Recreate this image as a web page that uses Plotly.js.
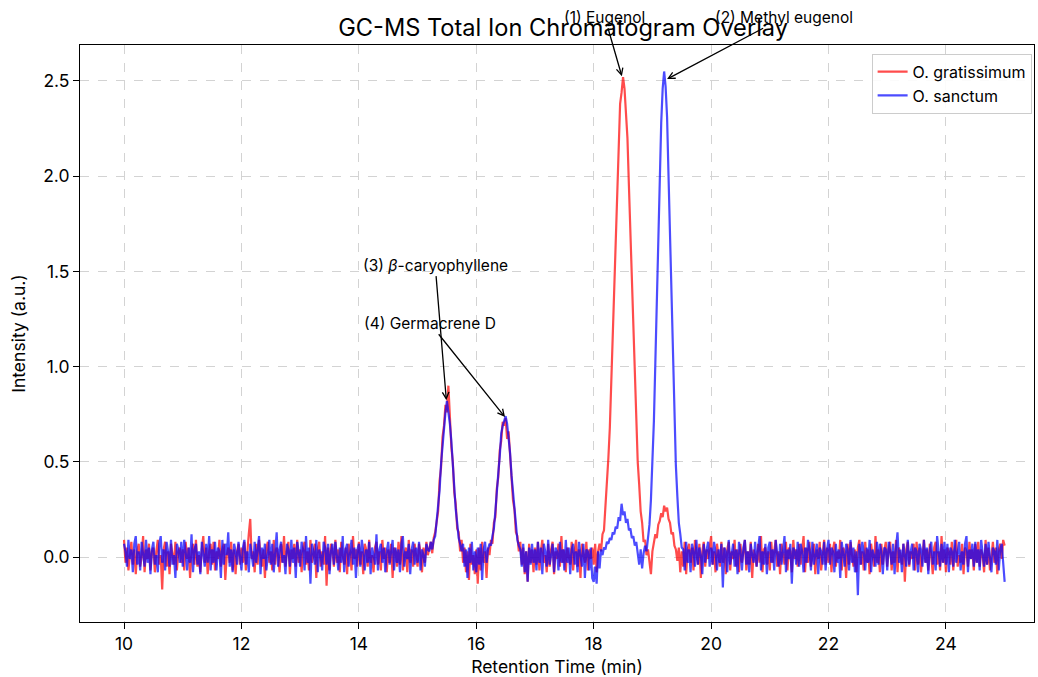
<!DOCTYPE html>
<html>
<head>
<meta charset="utf-8">
<script src="https://cdn.plot.ly/plotly-3.0.1.min.js"></script>
<style>html,body{margin:0;padding:0;background:#fff}#chart{width:1038px;height:677px}</style>
</head>
<body>
<div id="chart"></div>
<script>
// Sampling of the retention-time axis (minutes)
const timeStart = 10.0;
const timeStep = 0.025;

// O. gratissimum intensities (a.u.), one row per half minute, 10.00 .. 25.00 min
const gratissimum = [
  0.09, -0.03, 0.05, -0.07, 0.01, 0.08, -0.04, 0.04, -0.09, 0.03, 0.07, -0.05, 0.00, 0.11, -0.08, 0.04, -0.01, 0.07, -0.07, 0.03,
  0.05, -0.08, 0.03, 0.09, -0.04, 0.01, -0.17, 0.04, 0.08, -0.05, 0.03, -0.09, 0.07, 0.01, -0.04, 0.08, -0.07, 0.03, 0.05, -0.03,
  0.04, -0.07, 0.08, -0.01, 0.05, -0.11, 0.03, 0.07, -0.04, 0.09, -0.05, 0.01, -0.08, 0.04, 0.11, -0.03, 0.05, -0.09, 0.03, 0.07,
  -0.04, 0.08, -0.07, 0.03, -0.01, 0.09, -0.05, 0.04, 0.07, -0.12, 0.01, 0.05, -0.03, 0.08, -0.07, 0.04, -0.09, 0.03, 0.07, -0.04,
  0.05, -0.03, 0.08, -0.07, 0.04, 0.12, 0.20, -0.01, 0.03, -0.08, 0.07, -0.04, 0.09, 0.01, -0.05, 0.04, -0.11, 0.05, 0.08, -0.03,
  0.03, -0.07, 0.09, -0.04, 0.05, 0.01, -0.08, 0.07, -0.03, 0.11, -0.05, 0.03, 0.08, -0.09, 0.04, -0.01, 0.07, -0.05, 0.09, -0.03,
  0.04, -0.08, 0.05, 0.08, -0.04, 0.03, -0.07, 0.09, -0.03, 0.01, 0.07, -0.11, 0.04, 0.08, -0.05, 0.03, -0.04, 0.11, -0.15, 0.05,
  -0.07, 0.07, 0.03, -0.05, 0.09, -0.03, 0.04, -0.08, 0.08, 0.01, -0.04, 0.05, -0.09, 0.07, 0.03, -0.07, 0.11, -0.01, 0.04, -0.05,
  0.08, -0.04, 0.03, -0.09, 0.07, 0.04, -0.05, 0.09, -0.03, 0.01, -0.08, 0.05, 0.08, -0.04, 0.03, -0.07, 0.09, -0.01, 0.05, -0.08,
  0.04, -0.03, 0.07, -0.11, 0.05, 0.03, -0.05, 0.08, -0.04, 0.11, -0.07, 0.01, 0.05, -0.08, 0.09, -0.03, 0.04, -0.05, 0.07, 0.01,
  -0.05, 0.07, 0.03, -0.08, 0.05, -0.03, 0.08, 0.01, 0.05, 0.08, 0.02, 0.10, 0.13, 0.20, 0.24, 0.40, 0.47, 0.63, 0.69, 0.80,
  0.76, 0.90, 0.72, 0.58, 0.50, 0.34, 0.28, 0.15, 0.13, 0.03, 0.09, -0.03, 0.05, -0.08, 0.03, -0.12, 0.07, -0.04, 0.01, -0.09,
  0.04, -0.14, 0.05, -0.07, 0.08, -0.03, 0.03, -0.11, 0.05, 0.01, 0.09, 0.07, 0.18, 0.21, 0.36, 0.42, 0.56, 0.61, 0.71, 0.69,
  0.73, 0.62, 0.66, 0.52, 0.45, 0.30, 0.25, 0.13, 0.11, 0.03, 0.08, -0.04, 0.05, -0.09, 0.03, -0.13, 0.07, -0.03, 0.04, -0.08,
  0.05, -0.04, 0.08, -0.07, 0.03, 0.09, -0.03, 0.01, -0.08, 0.07, -0.05, 0.04, 0.08, -0.09, 0.03, -0.01, 0.07, -0.05, 0.11, -0.03,
  0.04, -0.08, 0.05, 0.01, -0.04, 0.08, -0.07, 0.03, 0.09, -0.05, 0.04, -0.11, 0.07, 0.01, -0.03, 0.08, -0.07, 0.04, -0.01, 0.05,
  -0.04, 0.07, -0.08, 0.03, 0.07, 0.03, 0.12, 0.14, 0.27, 0.35, 0.52, 0.68, 0.92, 1.14, 1.43, 1.68, 1.96, 2.17, 2.38, 2.44,
  2.52, 2.46, 2.30, 2.20, 1.95, 1.71, 1.40, 1.16, 0.90, 0.70, 0.50, 0.38, 0.24, 0.18, 0.08, 0.09, 0.01, 0.04, -0.04, -0.09,
  0.03, 0.08, 0.12, 0.10, 0.17, 0.19, 0.23, 0.21, 0.27, 0.24, 0.26, 0.20, 0.18, 0.12, 0.13, 0.06, 0.04, -0.02, 0.05, -0.08,
  0.03, -0.05, 0.08, -0.09, 0.04, 0.07, -0.03, 0.05, -0.07, 0.09, 0.01, -0.04, 0.07, -0.11, 0.03, 0.08, -0.05, 0.04, -0.01, 0.07,
  0.11, -0.04, 0.03, -0.08, 0.07, 0.01, -0.05, 0.08, -0.03, 0.05, -0.09, 0.04, 0.08, -0.07, 0.03, -0.01, 0.09, -0.05, 0.04, -0.08,
  0.07, -0.03, 0.05, 0.09, -0.07, 0.03, -0.04, 0.08, -0.11, 0.04, 0.01, -0.05, 0.07, -0.03, 0.11, -0.08, 0.04, 0.05, -0.04, 0.03,
  -0.07, 0.08, -0.03, 0.04, 0.09, -0.05, 0.03, -0.09, 0.07, 0.01, -0.04, 0.08, -0.07, 0.05, 0.03, -0.08, 0.09, -0.01, 0.04, -0.05,
  0.07, -0.04, 0.03, 0.11, -0.08, 0.05, -0.03, 0.08, -0.05, 0.01, 0.07, -0.09, 0.04, -0.01, 0.08, -0.07, 0.03, 0.09, -0.04, 0.05,
  -0.03, 0.07, -0.08, 0.04, 0.08, -0.05, 0.03, -0.01, 0.09, -0.07, 0.05, 0.03, -0.11, 0.07, -0.04, 0.08, 0.01, -0.05, 0.04, -0.08,
  0.05, 0.09, -0.04, 0.03, -0.07, 0.08, -0.03, 0.04, -0.09, 0.07, 0.01, -0.05, 0.11, -0.03, 0.04, -0.08, 0.07, -0.04, 0.03, 0.08,
  -0.05, 0.04, 0.08, -0.07, 0.03, -0.03, 0.09, -0.08, 0.05, 0.01, -0.04, 0.07, -0.13, 0.04, 0.08, -0.05, 0.03, -0.01, 0.07, -0.07,
  0.08, -0.04, 0.05, -0.08, 0.03, 0.09, -0.03, 0.04, -0.07, 0.07, 0.01, -0.09, 0.05, 0.08, -0.04, 0.03, -0.07, 0.11, -0.03, 0.04,
  -0.08, 0.05, 0.03, -0.04, 0.08, -0.07, 0.04, 0.09, -0.05, 0.01, -0.03, 0.07, -0.09, 0.05, 0.03, -0.05, 0.08, -0.01, 0.04, -0.07,
  0.07, -0.03, 0.08, -0.05, 0.04, 0.01, -0.08, 0.09, -0.04, 0.05, -0.07, 0.03, 0.08, -0.03, 0.05, -0.09, 0.04, 0.07, -0.01, 0.09,
  0.06
];

// O. sanctum intensities (a.u.), same sampling
const sanctum = [
  0.07, 0.03, -0.05, 0.09, -0.01, 0.04, -0.08, 0.07, 0.11, -0.04, 0.03, -0.07, 0.08, 0.01, -0.05, 0.09, -0.03, 0.05, -0.09, 0.04,
  0.08, -0.04, 0.01, -0.08, 0.07, 0.11, -0.03, 0.04, -0.07, 0.08, 0.03, -0.05, 0.09, -0.04, 0.01, -0.11, 0.07, 0.04, -0.03, 0.08,
  -0.05, 0.09, 0.03, -0.07, 0.05, -0.03, 0.12, -0.08, 0.04, 0.07, -0.04, 0.03, -0.09, 0.08, 0.01, -0.05, 0.07, -0.03, 0.11, -0.07,
  0.04, -0.03, 0.08, -0.07, 0.05, 0.03, -0.11, 0.09, -0.04, 0.07, 0.01, 0.13, -0.05, 0.04, -0.08, 0.07, 0.03, -0.04, 0.08, -0.01,
  -0.07, 0.05, 0.09, -0.04, 0.03, -0.08, 0.07, 0.01, -0.05, 0.08, -0.03, 0.04, 0.11, -0.09, 0.05, -0.01, 0.07, -0.07, 0.03, 0.09,
  -0.04, 0.07, -0.08, 0.03, 0.13, -0.05, 0.04, 0.08, -0.03, 0.01, -0.09, 0.07, 0.04, -0.05, 0.09, -0.03, 0.05, -0.11, 0.08, 0.03,
  -0.05, 0.08, 0.04, -0.07, 0.11, -0.03, 0.05, -0.14, 0.07, 0.03, -0.04, 0.09, -0.08, 0.04, 0.01, -0.07, 0.08, 0.05, -0.04, 0.07,
  -0.09, 0.03, 0.07, -0.04, 0.08, 0.01, -0.07, 0.05, -0.03, 0.11, -0.08, 0.04, 0.07, -0.05, 0.03, 0.09, -0.04, 0.05, -0.11, 0.04,
  0.07, -0.05, 0.09, 0.03, -0.07, 0.04, -0.03, 0.08, -0.09, 0.05, 0.01, -0.04, 0.12, -0.07, 0.04, 0.07, -0.03, 0.05, -0.08, 0.03,
  0.08, -0.04, 0.03, 0.09, -0.07, 0.05, -0.03, 0.04, -0.08, 0.07, 0.11, -0.05, 0.03, -0.01, 0.07, -0.09, 0.04, 0.08, -0.04, 0.05,
  -0.03, 0.08, -0.07, 0.04, 0.01, -0.05, 0.07, 0.04, 0.03, 0.08, 0.04, 0.09, 0.11, 0.18, 0.27, 0.35, 0.49, 0.59, 0.71, 0.76,
  0.82, 0.77, 0.70, 0.61, 0.47, 0.37, 0.25, 0.18, 0.10, 0.07, 0.03, 0.07, -0.05, 0.04, -0.11, 0.05, -0.03, 0.08, -0.07, 0.03,
  -0.08, 0.05, -0.04, 0.07, -0.12, 0.04, 0.08, -0.03, 0.04, 0.07, 0.06, 0.11, 0.15, 0.24, 0.32, 0.44, 0.53, 0.65, 0.69, 0.72,
  0.74, 0.70, 0.63, 0.55, 0.43, 0.34, 0.23, 0.16, 0.09, 0.06, 0.04, -0.05, 0.07, -0.08, 0.03, -0.13, 0.05, -0.04, 0.07, -0.03,
  0.04, -0.07, 0.08, -0.03, 0.05, -0.09, 0.07, 0.03, -0.05, 0.09, -0.04, 0.01, 0.07, -0.08, 0.05, 0.03, -0.07, 0.08, -0.03, 0.04,
  -0.07, 0.09, -0.03, 0.05, -0.09, 0.04, 0.07, -0.04, 0.03, -0.08, 0.08, 0.01, -0.05, 0.07, -0.11, 0.04, 0.03, -0.07, 0.05, -0.11,
  -0.13, -0.05, -0.14, 0.03, -0.06, 0.04, 0.01, 0.05, 0.04, 0.08, 0.07, 0.10, 0.09, 0.13, 0.12, 0.16, 0.15, 0.21, 0.19, 0.28,
  0.22, 0.24, 0.18, 0.20, 0.14, 0.15, 0.10, 0.11, 0.06, 0.08, 0.02, -0.04, 0.04, -0.06, 0.02, 0.06, 0.03, 0.10, 0.17, 0.30,
  0.49, 0.71, 1.02, 1.33, 1.70, 2.02, 2.28, 2.46, 2.55, 2.47, 2.31, 2.00, 1.70, 1.33, 1.01, 0.73, 0.48, 0.32, 0.18, 0.12,
  0.05, 0.04, -0.07, 0.08, -0.03, 0.04, -0.08, 0.07, 0.03, -0.05, 0.09, -0.04, 0.05, 0.01, -0.09, 0.07, -0.03, 0.04, 0.08, -0.05,
  0.05, -0.04, 0.08, 0.03, -0.07, 0.04, -0.03, 0.07, -0.16, 0.05, 0.03, -0.08, 0.09, -0.04, 0.01, 0.07, -0.05, 0.04, -0.09, 0.08,
  0.03, -0.07, 0.05, 0.09, -0.04, 0.03, -0.08, 0.07, 0.01, -0.03, 0.08, -0.05, 0.04, 0.11, -0.07, 0.03, -0.04, 0.07, -0.09, 0.05,
  0.08, -0.03, 0.04, -0.07, 0.09, 0.01, -0.05, 0.07, -0.04, 0.03, 0.11, -0.08, 0.04, -0.01, 0.07, -0.14, 0.05, 0.03, -0.04, 0.08,
  -0.05, 0.07, 0.03, -0.08, 0.05, -0.03, 0.09, 0.04, -0.07, 0.08, -0.04, 0.01, 0.07, -0.09, 0.05, 0.03, -0.04, 0.08, -0.07, 0.04,
  0.09, -0.04, 0.05, 0.03, -0.08, 0.07, -0.03, 0.04, -0.11, 0.08, 0.01, -0.05, 0.07, 0.04, -0.07, 0.09, -0.03, 0.05, -0.08, 0.03,
  -0.20, 0.07, -0.04, 0.08, 0.03, -0.07, 0.05, -0.03, 0.09, -0.08, 0.04, 0.01, -0.05, 0.08, -0.04, 0.07, 0.03, -0.09, 0.05, 0.04,
  -0.07, 0.08, 0.03, -0.04, 0.07, -0.09, 0.05, 0.13, -0.03, 0.04, -0.08, 0.07, 0.01, -0.05, 0.09, -0.04, 0.03, 0.07, -0.07, 0.05,
  0.03, -0.08, 0.07, 0.04, -0.05, 0.09, -0.03, 0.05, -0.09, 0.04, 0.08, -0.04, 0.03, -0.07, 0.11, 0.01, -0.05, 0.07, -0.03, 0.08,
  -0.04, 0.07, -0.08, 0.05, 0.03, -0.05, 0.09, -0.03, 0.04, 0.08, -0.07, 0.03, -0.04, 0.07, 0.11, -0.08, 0.04, -0.01, 0.07, -0.05,
  0.08, -0.03, 0.04, -0.07, 0.09, 0.03, -0.05, 0.07, -0.04, 0.08, 0.01, -0.08, 0.05, 0.03, -0.04, 0.09, -0.07, 0.04, 0.07, -0.03,
  -0.13
];

// Peak labels: text, arrow-head point (time, intensity), label centre (time, intensity)
const peakLabels = ["(1) Eugenol", "(2) Methyl eugenol", "(3) <i>β</i>-caryophyllene", "(4) Germacrene D"];
const peakTimes = [18.48, 19.25, 15.49, 16.49];
const peakHeights = [2.525, 2.51, 0.824, 0.735];
const labelTimes = [18.19, 21.24, 15.30, 15.21];
const labelHeights = [2.835, 2.835, 1.533, 1.228];

const seriesNames = ["O. gratissimum", "O. sanctum"];
const xTicks = [10, 12, 14, 16, 18, 20, 22, 24];
const yTicks = [0.0, 0.5, 1.0, 1.5, 2.0, 2.5];

const timesFor = arr => arr.map((_, i) => +(timeStart + i * timeStep).toFixed(3));

const font = "Inter, 'Open Sans', sans-serif";

const traces = [
  {x: timesFor(gratissimum), y: gratissimum, name: seriesNames[0], type: "scatter", mode: "lines",
   line: {color: "rgba(255,0,0,0.7)", width: 2.2}},
  {x: timesFor(sanctum), y: sanctum, name: seriesNames[1], type: "scatter", mode: "lines",
   line: {color: "rgba(0,0,255,0.7)", width: 2.2}}
];

const annotations = peakLabels.map((t, i) => ({
  text: t, x: peakTimes[i], y: peakHeights[i], xref: "x", yref: "y",
  ax: labelTimes[i], ay: labelHeights[i], axref: "x", ayref: "y",
  showarrow: true, arrowhead: 5, arrowsize: 1, arrowwidth: 1.3, arrowcolor: "#000",
  font: {family: font, size: 15.5, color: "#000"}
}));

const layout = {
  width: 1038, height: 677,
  margin: {l: 80, r: 4, t: 45, b: 55},
  paper_bgcolor: "#fff", plot_bgcolor: "#fff",
  font: {family: font, color: "#000"},
  title: {text: "GC-MS Total Ion Chromatogram Overlay", x: 0.5425, xanchor: "center",
          y: 0.9586, yanchor: "middle", font: {family: font, size: 23.6, color: "#000"}},
  xaxis: {
    range: [9.25, 25.5], tickvals: xTicks, ticktext: xTicks.map(String),
    ticks: "outside", ticklen: 6, tickwidth: 1, tickcolor: "#000",
    showline: true, linecolor: "#000", linewidth: 1, mirror: true,
    showgrid: true, gridcolor: "#d3d3d3", griddash: "dash", gridwidth: 1,
    zeroline: false, tickfont: {family: font, size: 17.5},
    title: {text: "Retention Time (min)", font: {family: font, size: 17.5}, standoff: 8}
  },
  yaxis: {
    range: [-0.341, 2.689], tickvals: yTicks, ticktext: yTicks.map(v => v.toFixed(1)),
    ticks: "outside", ticklen: 6, tickwidth: 1, tickcolor: "#000",
    showline: true, linecolor: "#000", linewidth: 1, mirror: true,
    showgrid: true, gridcolor: "#d3d3d3", griddash: "dash", gridwidth: 1,
    zeroline: false, tickfont: {family: font, size: 17.5},
    title: {text: "Intensity (a.u.)", font: {family: font, size: 17.5}, standoff: 13}
  },
  legend: {x: 0.9975, y: 0.985, xanchor: "right", yanchor: "top",
           bgcolor: "rgba(255,255,255,0.9)", bordercolor: "#cccccc", borderwidth: 1,
           font: {family: font, size: 16}, tracegroupgap: 0},
  showlegend: true,
  annotations: annotations
};

Plotly.newPlot("chart", traces, layout, {staticPlot: true, displayModeBar: false});
</script>
</body>
</html>
